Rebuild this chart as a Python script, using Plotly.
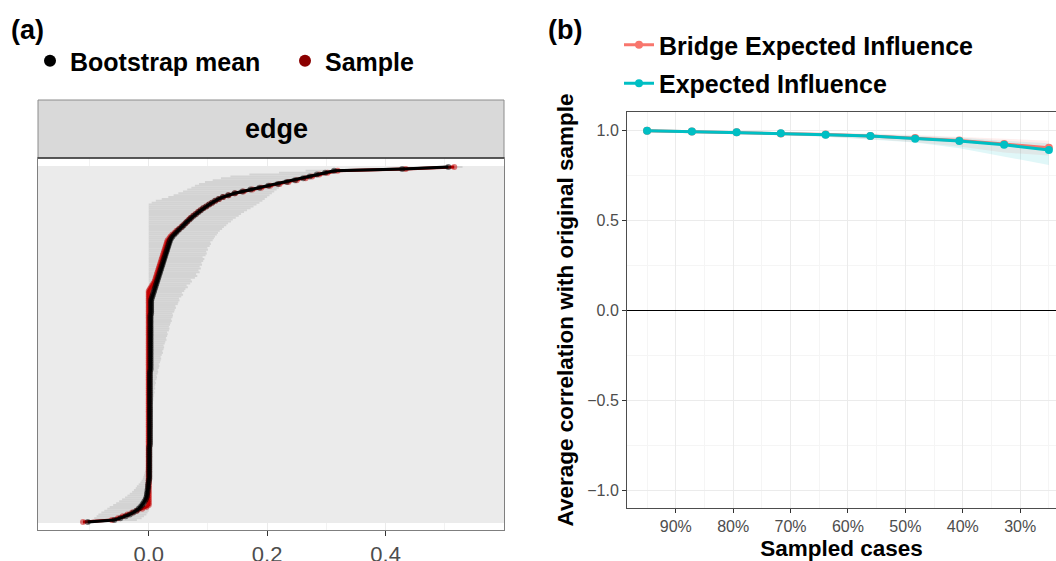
import numpy as np
import plotly.graph_objects as go

# ---------------- Panel (a): edge bootstrap ----------------
edge_sample = [
    -0.111, -0.062, -0.052, -0.044, -0.036, -0.028, -0.020, -0.011, -0.004,
    0, 0, 0, 0, 0, 0, 0, 0, 0, 0,
    0, 0, 0, 0, 0, 0, 0, 0, 0, 0,
    0, 0, 0, 0, 0, 0, 0, 0, 0, 0,
    0, 0, 0, 0, 0, 0, 0, 0, 0, 0,
    0, 0, 0, 0, 0, 0, 0, 0, 0, 0,
    0, 0, 0, 0, 0, 0, 0, 0, 0, 0,
    0, 0, 0, 0, 0, 0, 0, 0, 0, 0,
    0, 0, 0, 0, 0, 0, 0, 0, 0, 0,
    0, 0, 0, 0, 0, 0, 0, 0, 0, 0,
    0, 0, 0, 0, 0, 0, 0, 0, 0, 0,
    0, 0, 0, 0, 0, 0, 0, 0, 0, 0,
    0, 0, 0, 0, 0,
    0.002, 0.004, 0.006, 0.008, 0.010, 0.011, 0.012, 0.013, 0.014, 0.015,
    0.016, 0.017, 0.018, 0.019, 0.020, 0.021, 0.022, 0.023, 0.024, 0.025,
    0.026, 0.027, 0.028, 0.029, 0.030, 0.031, 0.032, 0.035, 0.037, 0.040,
    0.044, 0.047, 0.051, 0.055, 0.058, 0.062, 0.065, 0.068, 0.071, 0.075,
    0.079, 0.083, 0.087, 0.092, 0.097, 0.102, 0.107, 0.113, 0.119, 0.126,
    0.135, 0.146, 0.160, 0.175, 0.190, 0.205, 0.221, 0.236, 0.250, 0.265,
    0.276, 0.288, 0.302, 0.319, 0.434, 0.516,
]

edge_mean = [
    -0.103, -0.058, -0.048, -0.039, -0.032, -0.026, -0.021, -0.017, -0.014, -0.011,
    -0.009, -0.007, -0.005, -0.004, -0.003, -0.003, -0.002, -0.002, -0.001, -0.001,
    -0.001, 0.000, 0.000,
    0.001, 0.001, 0.001, 0.001, 0.001, 0.001, 0.001, 0.001, 0.001, 0.001,
    0.001, 0.001, 0.001, 0.001, 0.001, 0.001, 0.001, 0.001,
    0.002, 0.002, 0.002, 0.002, 0.002, 0.002, 0.002, 0.002, 0.002, 0.002,
    0.002, 0.002, 0.002, 0.002, 0.002, 0.002, 0.002, 0.002, 0.002, 0.002,
    0.002, 0.002, 0.002, 0.002, 0.002, 0.002, 0.002, 0.002, 0.002, 0.002,
    0.002, 0.002, 0.002, 0.002, 0.002, 0.002, 0.002, 0.002, 0.002, 0.002,
    0.003, 0.003, 0.003, 0.003, 0.003, 0.003, 0.003, 0.003, 0.003, 0.003,
    0.003, 0.003, 0.003, 0.003, 0.003, 0.003, 0.003, 0.003, 0.003, 0.003,
    0.003, 0.003, 0.003, 0.003, 0.003, 0.003, 0.003, 0.003, 0.003, 0.003,
    0.004, 0.004, 0.004, 0.004, 0.004, 0.004, 0.004, 0.004,
    0.005, 0.006, 0.007, 0.008, 0.009,
    0.010, 0.011, 0.012, 0.013, 0.014, 0.015, 0.016, 0.017, 0.018, 0.019,
    0.020, 0.021, 0.022, 0.023, 0.024, 0.025, 0.026, 0.027, 0.028, 0.029,
    0.030, 0.031, 0.032, 0.033, 0.034, 0.035, 0.036, 0.038, 0.040, 0.043,
    0.046, 0.049, 0.052, 0.056, 0.059, 0.062, 0.065, 0.069, 0.072, 0.076,
    0.080, 0.084, 0.088, 0.092, 0.097, 0.102, 0.107, 0.112, 0.118, 0.125,
    0.134, 0.145, 0.158, 0.172, 0.187, 0.202, 0.218, 0.233, 0.247, 0.261,
    0.272, 0.284, 0.298, 0.313, 0.428, 0.506,
]

edge_lower = [
    -0.115, -0.095, -0.092, -0.088, -0.085, -0.080, -0.075, -0.070, -0.066,
    -0.060, -0.055, -0.050, -0.045, -0.040, -0.036, -0.032, -0.028, -0.025, -0.022,
    -0.020, -0.017, -0.014, -0.012,
    -0.010, -0.009, -0.008, -0.007, -0.006, -0.005, -0.005, -0.004, -0.004, -0.003,
    -0.003, -0.002, -0.002,
    0, 0, 0, 0, 0, 0, 0, 0, 0, 0,
    0, 0, 0, 0, 0, 0, 0, 0, 0, 0,
    0, 0, 0, 0, 0, 0, 0, 0, 0, 0,
    0, 0, 0, 0, 0, 0, 0, 0, 0, 0,
    0, 0, 0, 0, 0, 0, 0, 0, 0, 0,
    0, 0, 0, 0, 0, 0, 0, 0, 0, 0,
    0, 0, 0, 0, 0, 0, 0, 0, 0, 0,
    0, 0, 0, 0, 0, 0, 0, 0, 0, 0,
    0, 0, 0, 0, 0, 0, 0, 0, 0, 0,
    0, 0, 0, 0, 0, 0, 0, 0, 0, 0,
    0, 0, 0, 0, 0, 0, 0, 0, 0, 0,
    0, 0, 0, 0, 0, 0, 0, 0, 0, 0,
    0, 0, 0, 0, 0, 0, 0, 0, 0, 0,
    0, 0, 0,
    0.000, 0.005, 0.012, 0.022, 0.033, 0.042, 0.050, 0.058, 0.065, 0.072,
    0.078, 0.085, 0.095, 0.108, 0.122, 0.138, 0.170, 0.220, 0.265, 0.400,
    0.480,
]

edge_upper = [
    -0.085, -0.020, -0.012, -0.008, -0.004, -0.002, 0.000, 0.001, 0.001,
    0.002, 0.002, 0.002, 0.003, 0.003, 0.003, 0.003, 0.003, 0.004, 0.004,
    0.004, 0.004, 0.004, 0.005, 0.005, 0.005, 0.005, 0.005, 0.005, 0.005,
    0.006, 0.006, 0.006, 0.006, 0.006, 0.006, 0.006,
    0.006, 0.006, 0.006, 0.006, 0.006, 0.006, 0.006, 0.006, 0.006, 0.006,
    0.006, 0.006, 0.006, 0.006, 0.007, 0.007, 0.007, 0.007, 0.007, 0.007,
    0.007, 0.007, 0.007, 0.007, 0.007, 0.007, 0.007, 0.007,
    0.007, 0.008, 0.008, 0.009, 0.009, 0.010, 0.009, 0.011, 0.010, 0.011,
    0.012, 0.011, 0.013, 0.014, 0.013, 0.015, 0.016, 0.015, 0.017, 0.018,
    0.017, 0.019, 0.020, 0.021, 0.020, 0.022, 0.024, 0.023, 0.025, 0.026,
    0.025, 0.027, 0.028, 0.030, 0.029, 0.031, 0.032, 0.031, 0.034, 0.035,
    0.034, 0.036, 0.037, 0.039, 0.038, 0.040, 0.041, 0.040, 0.043, 0.044,
    0.046, 0.045, 0.049, 0.050, 0.052, 0.051, 0.055, 0.058, 0.056, 0.060,
    0.062, 0.066, 0.064, 0.070, 0.073, 0.071, 0.078, 0.082, 0.080, 0.086,
    0.084, 0.088, 0.086, 0.090, 0.089, 0.092, 0.094, 0.091, 0.096, 0.098,
    0.097, 0.100, 0.099, 0.103, 0.105, 0.104, 0.108, 0.110, 0.112, 0.115,
    0.117, 0.120, 0.124, 0.127, 0.131, 0.134, 0.139, 0.142, 0.147, 0.152,
    0.156, 0.161, 0.166, 0.172, 0.177, 0.182, 0.187, 0.192, 0.196, 0.200,
    0.204, 0.208, 0.212, 0.216, 0.220, 0.224, 0.228, 0.240, 0.255, 0.270,
    0.285, 0.300, 0.318, 0.335, 0.450, 0.530,
]

edge_ticks = [0.0, 0.2, 0.4]
edge_tick_labels = ["0.0", "0.2", "0.4"]

# ---------------- Panel (b): case-dropping stability ----------------
sampled_cases = [95.0, 87.2, 79.4, 71.7, 63.9, 56.1, 48.3, 40.6, 32.8, 25.0]
bei_mean = [0.996, 0.991, 0.987, 0.981, 0.975, 0.967, 0.955, 0.942, 0.922, 0.902]
bei_low = [0.993, 0.986, 0.980, 0.972, 0.962, 0.950, 0.932, 0.908, 0.875, 0.858]
bei_high = [0.998, 0.995, 0.992, 0.989, 0.985, 0.980, 0.972, 0.964, 0.952, 0.940]
ei_mean = [0.996, 0.991, 0.987, 0.982, 0.974, 0.966, 0.952, 0.939, 0.918, 0.889]
ei_low = [0.993, 0.987, 0.981, 0.974, 0.963, 0.948, 0.930, 0.898, 0.852, 0.806]
ei_high = [0.998, 0.995, 0.992, 0.989, 0.984, 0.976, 0.967, 0.959, 0.940, 0.927]
case_ticks = [90, 80, 70, 60, 50, 40, 30]
case_tick_labels = ["90%", "80%", "70%", "60%", "50%", "40%", "30%"]
cor_ticks = [-1.0, -0.5, 0.0, 0.5, 1.0]
cor_tick_labels = ["\u22121.0", "\u22120.5", "0.0", "0.5", "1.0"]

W, H = 1056, 561
FONT = "Liberation Sans, Arial, Helvetica, sans-serif"

def px_x(p):
    return p / W

def px_y(p):
    return (H - p) / H

idx = list(range(len(edge_sample)))
m = np.array(edge_mean)
lo = np.array(edge_lower)
hi = np.array(edge_upper)

fig = go.Figure()

# bootstrap CI per edge
fig.add_trace(go.Scatter(
    x=edge_mean, y=idx, mode="markers", xaxis="x", yaxis="y",
    marker=dict(size=1, color="rgba(0,0,0,0)"),
    error_x=dict(type="data", symmetric=False,
                 array=np.maximum(hi - m, 0), arrayminus=np.maximum(m - lo, 0),
                 color="#D3D3D3", thickness=2, width=0),
    showlegend=False, hoverinfo="skip"))
fig.add_trace(go.Scatter(
    x=edge_sample, y=idx, mode="lines+markers", xaxis="x", yaxis="y",
    line=dict(color="#A00000", width=3),
    marker=dict(color="rgba(200,0,0,0.5)", size=6),
    showlegend=False))
fig.add_trace(go.Scatter(
    x=edge_mean, y=idx, mode="lines+markers", xaxis="x", yaxis="y",
    line=dict(color="black", width=3),
    marker=dict(color="rgba(0,0,0,0.5)", size=6),
    showlegend=False))
fig.add_trace(go.Scatter(x=[None], y=[None], mode="markers", xaxis="x", yaxis="y",
                         marker=dict(color="black", size=12), name="Bootstrap mean",
                         legend="legend"))
fig.add_trace(go.Scatter(x=[None], y=[None], mode="markers", xaxis="x", yaxis="y",
                         marker=dict(color="#8B0000", size=12), name="Sample",
                         legend="legend"))

# panel b bands
fig.add_trace(go.Scatter(
    x=sampled_cases + sampled_cases[::-1], y=bei_high + bei_low[::-1],
    fill="toself", fillcolor="rgba(248,118,109,0.12)", line=dict(width=0),
    mode="lines", xaxis="x2", yaxis="y2", showlegend=False, hoverinfo="skip"))
fig.add_trace(go.Scatter(
    x=sampled_cases + sampled_cases[::-1], y=ei_high + ei_low[::-1],
    fill="toself", fillcolor="rgba(0,191,196,0.12)", line=dict(width=0),
    mode="lines", xaxis="x2", yaxis="y2", showlegend=False, hoverinfo="skip"))
fig.add_trace(go.Scatter(
    x=sampled_cases, y=bei_mean, mode="lines+markers", xaxis="x2", yaxis="y2",
    line=dict(color="#F8766D", width=3), marker=dict(color="#F8766D", size=8),
    name="Bridge Expected Influence", legend="legend2", legendgroup="bei"))
fig.add_trace(go.Scatter(
    x=sampled_cases, y=ei_mean, mode="lines+markers", xaxis="x2", yaxis="y2",
    line=dict(color="#00BFC4", width=3), marker=dict(color="#00BFC4", size=8),
    name="Expected Influence", legend="legend2", legendgroup="ei"))

tickfont_a = dict(size=22, color="#4D4D4D", family=FONT)
tickfont_b = dict(size=16, color="#4D4D4D", family=FONT)
title_font = dict(size=22.5, weight="bold", family=FONT, color="black")
legend_font = dict(size=25, weight="bold", family=FONT, color="black")

fig.update_layout(
    width=W, height=H, margin=dict(l=0, r=0, t=0, b=0, autoexpand=False),
    paper_bgcolor="white", plot_bgcolor="white",
    font=dict(family=FONT, color="black"),
    xaxis=dict(domain=[px_x(38), px_x(504)], range=[-0.187, 0.6], anchor="y",
               automargin=False,
               tickmode="array", tickvals=edge_ticks, ticktext=edge_tick_labels,
               ticks="outside", ticklen=5, tickcolor="#333333", tickfont=tickfont_a,
               showgrid=True, gridcolor="#EBEBEB", gridwidth=1,
               minor=dict(tickvals=[-0.1, 0.1, 0.3, 0.5], showgrid=True,
                          gridcolor="#F2F2F2", ticks=""),
               showline=True, linecolor="#7F7F7F", linewidth=1, mirror=True,
               zeroline=False),
    yaxis=dict(domain=[px_y(530), px_y(158)], range=[-4.3, 193.8], anchor="x",
               automargin=False,
               tickmode="array", tickvals=idx, showticklabels=False, ticks="",
               showgrid=True, gridcolor="#EBEBEB", gridwidth=2,
               showline=True, linecolor="#7F7F7F", linewidth=1, mirror=True,
               zeroline=False),
    xaxis2=dict(domain=[px_x(627), 1.0], range=[98.5, 23.76], anchor="y2",
                automargin=False,
                tickmode="array", tickvals=case_ticks, ticktext=case_tick_labels,
                ticks="outside", ticklen=4, tickcolor="#333333", tickfont=tickfont_b,
                showgrid=True, gridcolor="#EBEBEB",
                minor=dict(tickvals=[95, 85, 75, 65, 55, 45, 35, 25], showgrid=True,
                           gridcolor="#F5F5F5", ticks=""),
                showline=True, linecolor="#4D4D4D", mirror=True, zeroline=False,
                title=dict(text="Sampled cases", standoff=9, font=title_font)),
    yaxis2=dict(domain=[px_y(508), px_y(112)], range=[-1.1, 1.1], anchor="x2",
                automargin=False,
                tickmode="array", tickvals=cor_ticks, ticktext=cor_tick_labels,
                ticks="outside", ticklen=4, tickcolor="#333333", tickfont=tickfont_b,
                showgrid=True, gridcolor="#EBEBEB",
                minor=dict(tickvals=[-0.75, -0.25, 0.25, 0.75], showgrid=True,
                           gridcolor="#F5F5F5", ticks=""),
                zeroline=True, zerolinecolor="black", zerolinewidth=1,
                showline=True, linecolor="#4D4D4D", mirror=False,
                title=dict(text="Average correlation with original sample", standoff=7,
                           font=title_font)),
    legend=dict(orientation="h", x=px_x(30), y=px_y(61), xanchor="left", yanchor="middle",
                font=legend_font, entrywidth=210, entrywidthmode="pixels",
                bgcolor="rgba(0,0,0,0)"),
    legend2=dict(orientation="v", x=px_x(619), y=px_y(64), xanchor="left", yanchor="middle",
                 font=legend_font, tracegroupgap=3, bgcolor="rgba(0,0,0,0)"),
    shapes=[
        dict(type="rect", xref="paper", yref="paper",
             x0=px_x(38), x1=px_x(504), y0=px_y(158), y1=px_y(100),
             fillcolor="#D9D9D9", line=dict(color="#8C8C8C", width=1), layer="above"),
        dict(type="line", xref="paper", yref="paper",
             x0=px_x(38), x1=px_x(504), y0=px_y(158), y1=px_y(158),
             line=dict(color="#333333", width=1.5), layer="above"),
    ],
    annotations=[
        dict(text="edge", xref="paper", yref="paper", x=px_x(276), y=px_y(129),
             showarrow=False, xanchor="center", yanchor="middle",
             font=dict(size=27, weight="bold", family=FONT, color="black")),
        dict(text="(a)", xref="paper", yref="paper", x=px_x(9), y=px_y(30),
             showarrow=False, xanchor="left", yanchor="middle",
             font=dict(size=27, weight="bold", family=FONT, color="black")),
        dict(text="(b)", xref="paper", yref="paper", x=px_x(546), y=px_y(30),
             showarrow=False, xanchor="left", yanchor="middle",
             font=dict(size=27, weight="bold", family=FONT, color="black")),
    ],
)

fig.write_html(
    "out.html",
    config={"displayModeBar": False},
    post_script="document.body.style.margin='0';document.body.style.overflow='hidden';",
)
